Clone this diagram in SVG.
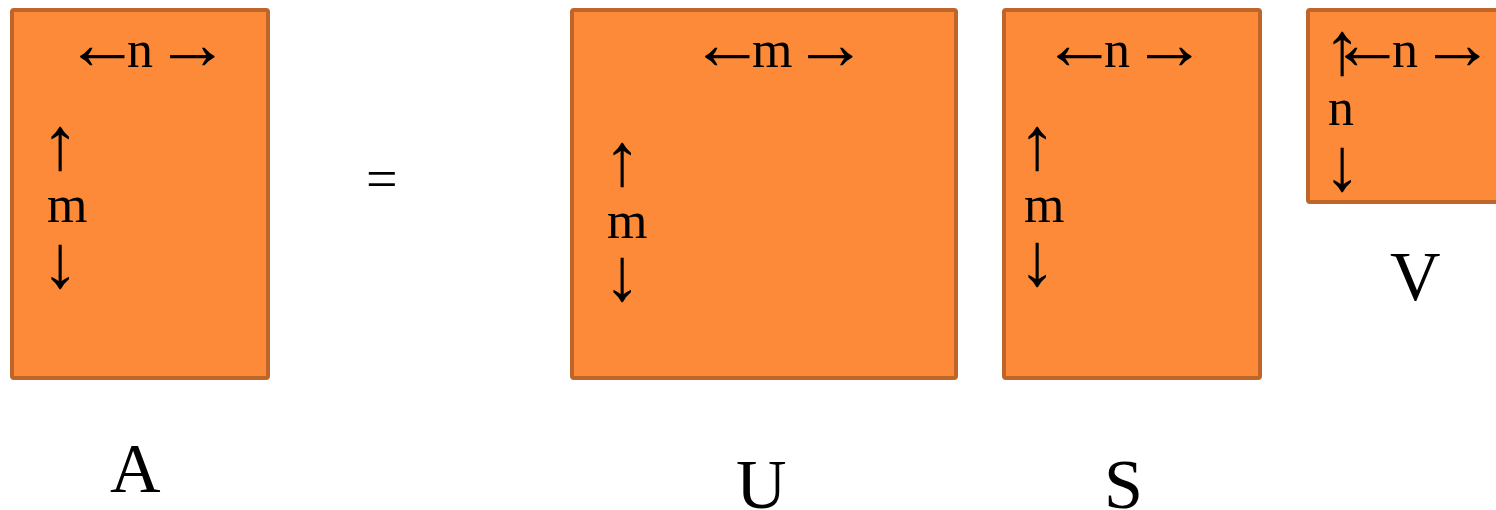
<svg xmlns="http://www.w3.org/2000/svg" width="1496" height="510" viewBox="0 0 1496 510">
<style>
.box{fill:#FD8A38;stroke:#C0652A;stroke-width:4}
text{font-family:"Liberation Serif","Times New Roman",serif;font-size:52px;fill:#000}
.ar{font-size:75px}
.lbl{font-size:70px}
.eq{font-size:56px}
</style>
<rect width="1496" height="510" fill="#fff"/>
<g id="A">
<rect class="box" x="12" y="10" width="256" height="368" rx="2"/>
<text x="65" y="69"><tspan class="ar">←</tspan><tspan x="127" y="67">n</tspan><tspan class="ar" x="155" y="69">→</tspan></text>
<text class="ar" x="41.5" y="169">↑</text>
<text x="47" y="222">m</text>
<text class="ar" x="41.5" y="287">↓</text>
<text class="lbl" x="110" y="492">A</text>
</g>
<g id="eq">
<text class="eq" x="366" y="198">=</text>
</g>
<g id="U">
<rect class="box" x="572" y="10" width="384" height="368" rx="2"/>
<text x="690" y="69"><tspan class="ar">←</tspan><tspan x="752" y="67">m</tspan><tspan class="ar" x="793" y="69">→</tspan></text>
<text class="ar" x="603.5" y="185">↑</text>
<text x="607" y="238">m</text>
<text class="ar" x="603.5" y="300">↓</text>
<text class="lbl" x="736" y="508">U</text>
</g>
<g id="S">
<rect class="box" x="1004" y="10" width="256" height="368" rx="2"/>
<text x="1042" y="69"><tspan class="ar">←</tspan><tspan x="1104" y="67">n</tspan><tspan class="ar" x="1132" y="69">→</tspan></text>
<text class="ar" x="1018.5" y="169">↑</text>
<text x="1024" y="222">m</text>
<text class="ar" x="1018.5" y="285">↓</text>
<text class="lbl" x="1104" y="508">S</text>
</g>
<g id="V">
<rect class="box" x="1308" y="10" width="200" height="192" rx="2"/>
<text x="1323.5" y="74"><tspan class="ar">↑</tspan><tspan class="ar" x="1330" y="69">←</tspan><tspan x="1392" y="67">n</tspan><tspan class="ar" x="1420" y="69">→</tspan></text>
<text x="1328" y="125">n</text>
<text class="ar" x="1323.5" y="190">↓</text>
<text class="lbl" x="1390" y="300">V</text>
</g>
<g id="connectors"></g>
</svg>
